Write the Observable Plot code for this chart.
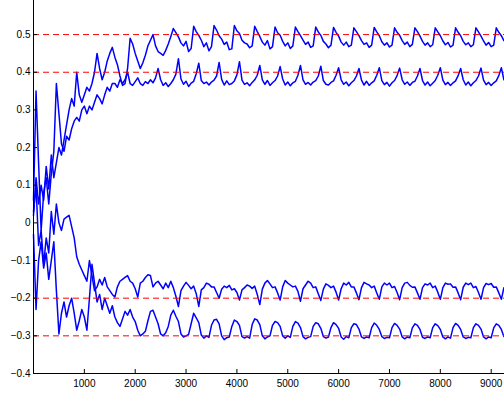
<!DOCTYPE html>
<html><head><meta charset="utf-8">
<script src="https://cdn.jsdelivr.net/npm/d3@7"></script>
<script src="https://cdn.jsdelivr.net/npm/@observablehq/plot@0.6"></script>
<style>html,body{margin:0;padding:0;background:#fff}svg{display:block}</style>
</head><body><div id="chart"></div>
<script>
const sampleStep = 50;
const xTicks = [1000, 2000, 3000, 4000, 5000, 6000, 7000, 8000, 9000];
const yTicks = [-0.4, -0.3, -0.2, -0.1, 0, 0.1, 0.2, 0.3, 0.4, 0.5];
const refLevels = [0.5, 0.4, -0.2, -0.3];

const seriesA = [
  0.02, 0.12, 0.05, 0.10, 0.06, 0.15, 0.09, 0.18, 0.12, 0.16,
  0.20, 0.18, 0.22, 0.26, 0.30, 0.33, 0.31, 0.40, 0.34, 0.32,
  0.34, 0.36, 0.35, 0.37, 0.40, 0.45, 0.41, 0.38, 0.40, 0.43,
  0.45, 0.466, 0.44, 0.42, 0.39, 0.365, 0.37, 0.41, 0.49, 0.475,
  0.45, 0.43, 0.41, 0.425, 0.445, 0.47, 0.485, 0.50, 0.47, 0.455,
  0.45, 0.445, 0.458, 0.475, 0.495,
  0.516, 0.505, 0.494, 0.478, 0.470, 0.482, 0.455, 0.463,
  0.522, 0.508, 0.498, 0.485, 0.468, 0.478, 0.457, 0.468,
  0.524, 0.512, 0.497, 0.488, 0.474, 0.480, 0.460, 0.462,
  0.524, 0.510, 0.503, 0.485, 0.478, 0.475, 0.465, 0.470,
  0.522, 0.508, 0.495, 0.480, 0.472, 0.484, 0.462, 0.468,
  0.520, 0.505, 0.498, 0.482, 0.470, 0.478, 0.463, 0.470,
  0.520, 0.508, 0.497, 0.485, 0.474, 0.480, 0.466, 0.470,
  0.520, 0.507, 0.498, 0.482, 0.475, 0.465, 0.472,
  0.519, 0.506, 0.496, 0.480, 0.472, 0.480, 0.468, 0.472,
  0.518, 0.508, 0.497, 0.484, 0.474, 0.478, 0.466, 0.472,
  0.519, 0.507, 0.497, 0.481, 0.472, 0.478, 0.467, 0.472,
  0.518, 0.506, 0.498, 0.484, 0.474, 0.480, 0.468, 0.474,
  0.518, 0.508, 0.496, 0.482, 0.472, 0.478, 0.468, 0.473,
  0.518, 0.507, 0.497, 0.483, 0.473, 0.479, 0.467, 0.472,
  0.518, 0.506, 0.497, 0.482, 0.473, 0.478, 0.468, 0.473,
  0.518, 0.507, 0.496, 0.483, 0.472, 0.479, 0.468, 0.472,
  0.518, 0.506, 0.497, 0.484
];

const seriesB = [
  0.06, 0.35, 0.16, -0.02, 0.08, 0.12, 0.05, 0.13, 0.19, 0.37,
  0.29, 0.21, 0.19, 0.23, 0.22, 0.25, 0.27, 0.28, 0.27, 0.30,
  0.31, 0.29, 0.31, 0.30, 0.32, 0.34, 0.33, 0.316, 0.34, 0.36,
  0.35, 0.37, 0.37, 0.36, 0.38, 0.37, 0.38, 0.40, 0.37, 0.365,
  0.375, 0.385, 0.37, 0.365, 0.375, 0.37, 0.38, 0.372, 0.385, 0.41,
  0.38, 0.365, 0.372, 0.362, 0.37,
  0.380, 0.395, 0.436, 0.382, 0.368, 0.376, 0.362, 0.371,
  0.376, 0.396, 0.424, 0.378, 0.370, 0.374, 0.366, 0.374,
  0.379, 0.390, 0.426, 0.381, 0.366, 0.377, 0.367, 0.370,
  0.377, 0.393, 0.428, 0.379, 0.368, 0.372, 0.364, 0.373,
  0.380, 0.392, 0.418, 0.380, 0.368, 0.378, 0.365, 0.372,
  0.378, 0.390, 0.415, 0.382, 0.366, 0.374, 0.364, 0.372,
  0.376, 0.392, 0.418, 0.380, 0.368, 0.373, 0.366, 0.374,
  0.378, 0.390, 0.416, 0.378, 0.368, 0.366, 0.373,
  0.377, 0.392, 0.412, 0.380, 0.368, 0.374, 0.364, 0.372,
  0.378, 0.390, 0.410, 0.379, 0.366, 0.376, 0.365, 0.372,
  0.377, 0.392, 0.412, 0.378, 0.367, 0.373, 0.363, 0.372,
  0.378, 0.391, 0.411, 0.380, 0.368, 0.374, 0.365, 0.373,
  0.376, 0.390, 0.410, 0.378, 0.366, 0.374, 0.364, 0.371,
  0.378, 0.392, 0.412, 0.379, 0.367, 0.373, 0.365, 0.372,
  0.377, 0.391, 0.410, 0.380, 0.366, 0.374, 0.364, 0.372,
  0.378, 0.390, 0.411, 0.379, 0.367, 0.373, 0.365, 0.372,
  0.377, 0.391, 0.412, 0.380
];

const seriesC = [
  0.03, 0.10, -0.06, -0.02, -0.11, -0.04, -0.08, 0.03, -0.03, 0.05,
  0.00, -0.02, 0.01, 0.015, 0.02, -0.01, -0.04, -0.09, -0.11, -0.125,
  -0.14, -0.155, -0.10, -0.14, -0.18, -0.17, -0.15, -0.165, -0.145, -0.17,
  -0.18, -0.19, -0.197, -0.17, -0.155, -0.15, -0.145, -0.14, -0.155, -0.16,
  -0.175, -0.197, -0.16, -0.155, -0.145, -0.138, -0.14, -0.17, -0.16, -0.155,
  -0.165, -0.175, -0.16, -0.172, -0.155,
  -0.172, -0.195, -0.222, -0.180, -0.168, -0.158, -0.166, -0.175,
  -0.168, -0.188, -0.222, -0.178, -0.172, -0.160, -0.163, -0.170,
  -0.170, -0.185, -0.200, -0.176, -0.168, -0.172, -0.166, -0.178,
  -0.175, -0.185, -0.205, -0.178, -0.172, -0.165, -0.168, -0.174,
  -0.168, -0.190, -0.217, -0.176, -0.160, -0.153, -0.162, -0.172,
  -0.170, -0.186, -0.205, -0.170, -0.153, -0.160, -0.165, -0.170,
  -0.168, -0.182, -0.208, -0.175, -0.165, -0.155, -0.160, -0.172,
  -0.170, -0.188, -0.206, -0.176, -0.162, -0.166, -0.172,
  -0.168, -0.184, -0.205, -0.175, -0.160, -0.165, -0.158, -0.170,
  -0.170, -0.186, -0.204, -0.172, -0.158, -0.162, -0.165, -0.172,
  -0.168, -0.186, -0.203, -0.170, -0.160, -0.165, -0.160, -0.172,
  -0.169, -0.185, -0.204, -0.172, -0.160, -0.158, -0.166, -0.171,
  -0.170, -0.186, -0.203, -0.172, -0.162, -0.165, -0.160, -0.172,
  -0.168, -0.184, -0.203, -0.172, -0.160, -0.163, -0.162, -0.171,
  -0.170, -0.186, -0.204, -0.171, -0.160, -0.164, -0.160, -0.172,
  -0.169, -0.185, -0.203, -0.172, -0.161, -0.164, -0.161, -0.171,
  -0.170, -0.186, -0.203, -0.172
];

const seriesD = [
  -0.03, -0.23, -0.10, -0.05, -0.12, -0.08, -0.15, -0.10, -0.05, -0.18,
  -0.295, -0.24, -0.21, -0.25, -0.22, -0.20, -0.24, -0.285, -0.26, -0.23,
  -0.25, -0.285, -0.20, -0.11, -0.16, -0.21, -0.19, -0.23, -0.20, -0.22,
  -0.24, -0.22, -0.25, -0.265, -0.275, -0.255, -0.235, -0.245, -0.23, -0.25,
  -0.262, -0.285, -0.300, -0.295, -0.288, -0.26, -0.235, -0.232, -0.25, -0.268,
  -0.295, -0.30, -0.292, -0.275, -0.245,
  -0.232, -0.248, -0.262, -0.295, -0.303, -0.300, -0.296, -0.268,
  -0.240, -0.252, -0.265, -0.298, -0.306, -0.300, -0.304, -0.272,
  -0.258, -0.256, -0.268, -0.300, -0.310, -0.305, -0.303, -0.275,
  -0.258, -0.262, -0.272, -0.302, -0.306, -0.302, -0.306, -0.270,
  -0.255, -0.258, -0.270, -0.300, -0.308, -0.303, -0.300, -0.272,
  -0.262, -0.265, -0.275, -0.300, -0.306, -0.300, -0.304, -0.275,
  -0.262, -0.266, -0.278, -0.302, -0.308, -0.304, -0.302, -0.275,
  -0.265, -0.268, -0.280, -0.302, -0.306, -0.303, -0.278,
  -0.265, -0.270, -0.280, -0.303, -0.309, -0.302, -0.305, -0.278,
  -0.268, -0.270, -0.282, -0.303, -0.307, -0.303, -0.305, -0.278,
  -0.266, -0.272, -0.283, -0.302, -0.307, -0.304, -0.305, -0.278,
  -0.267, -0.272, -0.282, -0.303, -0.308, -0.303, -0.305, -0.279,
  -0.268, -0.272, -0.283, -0.304, -0.307, -0.303, -0.305, -0.278,
  -0.268, -0.273, -0.283, -0.303, -0.308, -0.303, -0.306, -0.278,
  -0.267, -0.272, -0.283, -0.303, -0.307, -0.304, -0.305, -0.278,
  -0.268, -0.272, -0.282, -0.303, -0.308, -0.303, -0.305, -0.279,
  -0.268, -0.272, -0.283, -0.302
];

const seriesList = [["A", seriesA], ["B", seriesB], ["C", seriesC], ["D", seriesD]];
const rows = seriesList.flatMap(([name, vals]) => vals.map((v, i) => ({t: i * sampleStep, v, s: name})));

const fmtY = d => d === 0 ? "0" : d3.format(".1f")(d);

const chart = Plot.plot({
  width: 504,
  height: 394,
  marginLeft: 33,
  marginRight: 0,
  marginTop: 0,
  marginBottom: 21,
  style: {fontFamily: "'Liberation Sans', Arial, Helvetica, sans-serif", fontSize: "10px", color: "#000", background: "#fff"},
  x: {domain: [0, 9262]},
  y: {domain: [-0.4, 0.5905]},
  marks: [
    Plot.line(rows, {x: "t", y: "v", z: "s", stroke: "#0000ff", strokeWidth: 1.5}),
    Plot.ruleY(refLevels, {stroke: "#ff0000", strokeWidth: 1, strokeDasharray: "6,4"}),
    Plot.ruleX([0], {stroke: "#000"}),
    Plot.ruleY([-0.4], {stroke: "#000"}),
    Plot.axisY(yTicks, {anchor: "left", tickSize: -4, tickPadding: 7, tickFormat: fmtY, fontSize: 10, label: null}),
    Plot.axisX(xTicks, {anchor: "bottom", tickSize: -4, tickPadding: 10, tickFormat: d3.format("d"), fontSize: 10, label: null})
  ]
});
document.getElementById("chart").appendChild(chart);
</script>
</body></html>
